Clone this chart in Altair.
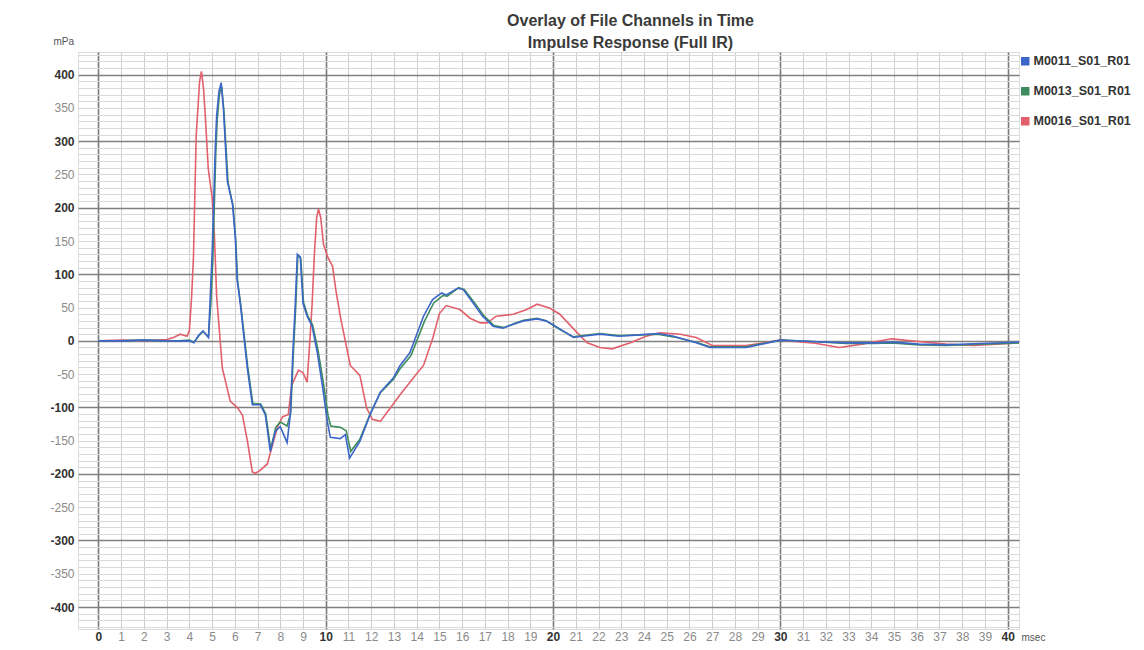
import altair as alt
import pandas as pd

# ---- data (time in msec, pressure in mPa) ----
series_names = ["M0011_S01_R01", "M0013_S01_R01", "M0016_S01_R01"]
series_colors = ["#3d66c9", "#3f8c5c", "#e2606c"]

t_m0016 = [0, 1, 2, 3.0, 3.3, 3.6, 3.9, 4.0, 4.1, 4.18, 4.3, 4.45, 4.53, 4.62, 4.7, 4.83,
           5.0, 5.1, 5.2, 5.45, 5.8, 6.1, 6.33, 6.55, 6.77, 6.9, 7.1, 7.43, 7.87, 8.1, 8.35,
           8.5, 8.8, 9.0, 9.18, 9.3, 9.4, 9.5, 9.6, 9.68, 9.78, 9.9, 10.1, 10.3, 10.45, 10.65,
           11.08, 11.5, 11.8, 12.05, 12.4, 12.84, 13.27, 13.85, 14.3, 14.7, 15.0, 15.3, 15.9,
           16.35, 16.8, 17.1, 17.5, 18.25, 18.85, 19.3, 19.87, 20.3, 20.9, 21.5, 22.07, 22.6,
           23.4, 24.1, 24.7, 25.6, 26.3, 27.0, 28.5, 30.0, 31.4, 32.6, 33.6, 34.9, 36.1, 37.3,
           38.5, 40.5]
v_m0016 = [0, 1, 0, 2, 5, 10, 7, 15, 67, 126, 308, 390, 405, 380, 338, 259,
           215, 160, 67, -41, -91, -100, -111, -150, -197, -199, -195, -185, -130, -114, -111,
           -67, -44, -48, -62, 0, 55, 130, 185, 198, 185, 145, 125, 112, 75, 35,
           -37, -52, -101, -118, -121, -101, -81, -56, -37, 3, 41, 53, 47,
           34, 27, 27, 37, 40, 47, 55, 49, 40, 18, -3, -10, -12,
           -3, 7, 12, 10, 5, -7, -7, 1, -3, -10, -5, 3, -1, -5,
           -7, -3]

t_m0011 = [0, 1, 2, 3, 3.5, 4.0, 4.2, 4.4, 4.6, 4.84, 4.92, 5.0, 5.14, 5.2, 5.3, 5.4, 5.5,
           5.67, 5.9, 6.02, 6.1, 6.24, 6.55, 6.77, 7.12, 7.34, 7.56, 7.78, 8.0, 8.3, 8.44,
           8.55, 8.66, 8.75, 8.88, 9.0, 9.18, 9.4, 9.63, 9.85, 10.07, 10.2, 10.64, 10.86,
           11.05, 11.5, 11.95, 12.4, 12.97, 13.27, 13.7, 14.3, 14.7, 15.1, 15.3, 15.8, 16.05,
           16.5, 16.9, 17.36, 17.8, 18.25, 18.7, 19.3, 19.7, 20.3, 20.9, 21.3, 22.07, 22.9,
           23.8, 24.6, 25.3, 26.3, 26.9, 28.5, 30.0, 31.4, 32.9, 34.1, 34.9, 36.1, 37.3,
           38.8, 40.5]
v_m0011 = [0, 0, 1, 0, 0, 0, -3, 8, 15, 5, 67, 130, 289, 338, 375, 388, 348,
           240, 205, 155, 92, 56, -41, -96, -96, -111, -166, -136, -129, -153, -111,
           -20, 56, 130, 126, 56, 37, 22, -18, -67, -121, -145, -147, -141,
           -176, -151, -111, -77, -56, -37, -18, 37, 62, 72, 69, 79, 77,
           56, 37, 22, 19, 25, 30, 33, 30, 18, 5, 7, 10, 7,
           9, 11, 7, -3, -10, -10, 1, -1, -3, -3, -2, -5, -6,
           -4, -2]

t_m0013 = [0, 1, 2, 3, 3.5, 4.0, 4.2, 4.4, 4.6, 4.84, 4.95, 5.03, 5.16, 5.22, 5.32, 5.42, 5.52,
           5.7, 5.92, 6.04, 6.12, 6.26, 6.57, 6.79, 7.14, 7.36, 7.58, 7.8, 8.0, 8.3, 8.46,
           8.57, 8.68, 8.77, 8.9, 9.02, 9.2, 9.42, 9.66, 9.88, 10.1, 10.22, 10.64, 10.9,
           11.1, 11.5, 11.95, 12.4, 12.97, 13.27, 13.75, 14.35, 14.75, 15.15, 15.35, 15.85, 16.1,
           16.55, 16.95, 17.4, 17.85, 18.3, 18.7, 19.3, 19.7, 20.3, 20.9, 21.3, 22.07, 22.9,
           23.8, 24.6, 25.3, 26.3, 26.9, 28.5, 30.0, 31.4, 32.9, 34.1, 34.9, 36.1, 37.3,
           38.8, 40.5]
v_m0013 = [0, 0, 1, 0, 0, 1, -2, 7, 14, 6, 60, 120, 280, 330, 370, 382, 345,
           238, 203, 152, 90, 54, -40, -94, -95, -110, -163, -130, -122, -128, -108,
           -22, 52, 128, 124, 58, 38, 24, -14, -60, -112, -128, -130, -135,
           -166, -148, -110, -78, -58, -42, -22, 30, 57, 68, 67, 80, 77,
           57, 38, 23, 20, 26, 31, 34, 30, 17, 6, 8, 11, 8,
           9, 10, 6, -2, -9, -9, 1, -1, -4, -4, -3, -6, -7,
           -5, -3]

x_ticks = list(range(0, 41))          # msec tick positions
y_ticks = list(range(-430, 431, 10))  # mPa grid positions (labels every 50)

rows = []
for name, ts, vs in [("M0016_S01_R01", t_m0016, v_m0016),
                     ("M0013_S01_R01", t_m0013, v_m0013),
                     ("M0011_S01_R01", t_m0011, v_m0011)]:
    for t, v in zip(ts, vs):
        rows.append({"t": t, "v": v, "series": name})
df = pd.DataFrame(rows)

FONT = "Liberation Sans"

x_axis = alt.Axis(
    values=x_ticks, title="msec", grid=True, ticks=False, domain=False,
    gridColor={"condition": {"test": "datum.value % 10 === 0", "value": "#7a7a7a"}, "value": "#cdcdcd"},
    gridWidth={"condition": {"test": "datum.value % 10 === 0", "value": 1.6}, "value": 1},
    labelColor={"condition": {"test": "datum.value % 10 === 0", "value": "#333333"}, "value": "#8a8a8a"},
    labelFontWeight={"condition": {"test": "datum.value % 10 === 0", "value": "bold"}, "value": "normal"},
    labelFont=FONT, labelFontSize=12, labelPadding=2, labelOverlap=False, labelFlush=False,
    titleFont=FONT, titleFontSize=10, titleFontWeight="normal", titleColor="#555555",
    titleX=943, titleY=8, titleAlign="left", titleBaseline="middle", titleAngle=0,
)

y_axis = alt.Axis(
    values=y_ticks, title="mPa", grid=True, ticks=False, domain=False,
    labelExpr="datum.value % 50 === 0 ? '' + datum.value : ''",
    gridColor={"condition": {"test": "datum.value % 100 === 0", "value": "#808080"}, "value": "#d9d9d9"},
    gridWidth={"condition": {"test": "datum.value % 100 === 0", "value": 1.5}, "value": 1},
    labelColor={"condition": {"test": "datum.value % 100 === 0", "value": "#333333"}, "value": "#8a8a8a"},
    labelFontWeight={"condition": {"test": "datum.value % 100 === 0", "value": "bold"}, "value": "normal"},
    labelFont=FONT, labelFontSize=12, labelPadding=4, labelOverlap=False, labelFlush=False,
    titleFont=FONT, titleFontSize=10, titleFontWeight="normal", titleColor="#555555",
    titleX=-25, titleY=-11, titleAlign="left", titleBaseline="middle", titleAngle=0,
)

legend = alt.Legend(
    orient="none", legendX=941, legendY=3, title=None,
    symbolType="square", symbolSize=16, symbolStrokeWidth=4.5, symbolOpacity=1,
    labelFont=FONT, labelFontSize=12.5, labelFontWeight="bold", labelColor="#333333",
    rowPadding=7, labelOffset=2, labelLimit=200,
)

chart = alt.Chart(df).mark_line(strokeWidth=1.6).encode(
    x=alt.X("t:Q", scale=alt.Scale(domain=[-0.9, 40.5], nice=False, zero=False), axis=x_axis),
    y=alt.Y("v:Q", scale=alt.Scale(domain=[-433, 434], nice=False, zero=False), axis=y_axis),
    color=alt.Color("series:N", scale=alt.Scale(domain=series_names, range=series_colors),
                    legend=legend),
).properties(
    width=941, height=577,
    autosize=alt.AutoSizeParams(type="none"),
    padding={"left": 70, "top": 44, "right": 117, "bottom": 13},
    title=alt.TitleParams(
        text=["Overlay of File Channels in Time", "Impulse Response (Full IR)"],
        font=FONT, fontSize=16, fontWeight="bold", color="#3a3a3a",
        anchor="middle", dx=82, dy=21, lineHeight=22, offset=6, frame="group",
    ),
).configure_view(
    stroke="#6a6a6a", strokeWidth=1.6
).configure(background="white")

chart.save("out.html", embed_options={"renderer": "svg", "actions": False})
